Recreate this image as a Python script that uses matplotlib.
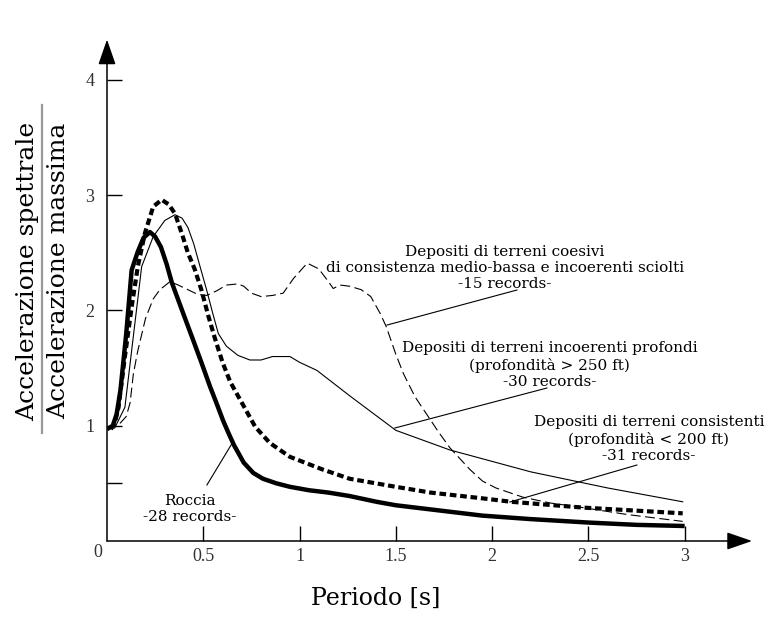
import numpy as np
import matplotlib
matplotlib.use('Agg')
import matplotlib.pyplot as plt
from matplotlib.lines import Line2D

# Spectral shapes (period [s], Sa / amax)
roccia_x = [0.0, 0.03, 0.05, 0.07, 0.10, 0.128, 0.16, 0.19, 0.223, 0.25, 0.28, 0.31, 0.337,
            0.39, 0.448, 0.49, 0.535, 0.57, 0.604, 0.63, 0.66, 0.71, 0.76, 0.81, 0.88, 0.95,
            1.05, 1.15, 1.26, 1.4, 1.5, 1.7, 1.95, 2.2, 2.5, 2.75, 3.0]
roccia_y = [0.97, 1.0, 1.1, 1.31, 1.80, 2.35, 2.51, 2.63, 2.68, 2.64, 2.55, 2.40, 2.24,
            2.0, 1.74, 1.55, 1.34, 1.19, 1.04, 0.94, 0.83, 0.68, 0.59, 0.54, 0.50, 0.47,
            0.44, 0.42, 0.39, 0.34, 0.31, 0.27, 0.22, 0.19, 0.16, 0.14, 0.13]

consist_x = [0.02, 0.04, 0.06, 0.093, 0.128, 0.16, 0.197, 0.24, 0.284, 0.32, 0.353, 0.39,
             0.42, 0.455, 0.49, 0.525, 0.56, 0.60, 0.64, 0.71, 0.77, 0.846, 0.95, 1.12,
             1.26, 1.5, 1.68, 1.95, 2.1, 2.47, 2.99]
consist_y = [0.97, 1.02, 1.16, 1.60, 2.03, 2.38, 2.67, 2.90, 2.96, 2.92, 2.84, 2.66,
             2.50, 2.36, 2.18, 1.96, 1.76, 1.55, 1.38, 1.17, 0.99, 0.85, 0.73, 0.62,
             0.54, 0.47, 0.42, 0.37, 0.34, 0.29, 0.24]

profondi_x = [0.04, 0.093, 0.145, 0.18, 0.24, 0.30, 0.353, 0.39, 0.42, 0.45, 0.48, 0.517,
              0.55, 0.578, 0.62, 0.68, 0.742, 0.80, 0.86, 0.95, 1.0, 1.09, 1.26, 1.5,
              1.78, 2.2, 2.6, 2.99]
profondi_y = [0.98, 1.16, 1.89, 2.38, 2.64, 2.78, 2.83, 2.80, 2.72, 2.58, 2.40, 2.18,
              1.97, 1.80, 1.69, 1.61, 1.57, 1.57, 1.60, 1.60, 1.55, 1.48, 1.26, 0.96,
              0.79, 0.60, 0.46, 0.34]

coesivi_x = [0.067, 0.10, 0.12, 0.137, 0.16, 0.20, 0.24, 0.275, 0.327, 0.37, 0.42, 0.47,
             0.518, 0.57, 0.62, 0.68, 0.71, 0.75, 0.80, 0.86, 0.915, 0.97, 1.04, 1.10,
             1.15, 1.175, 1.21, 1.26, 1.32, 1.37, 1.42, 1.45, 1.50, 1.54, 1.60, 1.66,
             1.72, 1.78, 1.885, 1.95, 2.02, 2.16, 2.3, 2.47, 2.7, 2.99]
coesivi_y = [1.02, 1.08, 1.2, 1.45, 1.65, 1.93, 2.10, 2.18, 2.25, 2.22, 2.18, 2.14,
             2.13, 2.17, 2.22, 2.23, 2.21, 2.15, 2.12, 2.13, 2.15, 2.28, 2.41, 2.36,
             2.25, 2.19, 2.22, 2.21, 2.18, 2.12, 1.97, 1.86, 1.62, 1.45, 1.25, 1.10,
             0.95, 0.81, 0.62, 0.52, 0.46, 0.38, 0.33, 0.29, 0.23, 0.17]

x_ticks = [0.5, 1, 1.5, 2, 2.5, 3]
x_labels = ['0.5', '1', '1.5', '2', '2.5', '3']
y_ticks = [0.5, 1, 2, 3, 4]
y_labels = ['', '1', '2', '3', '4']

fig = plt.figure(figsize=(7.81, 6.18), dpi=100)
ax = fig.add_axes([0.137, 0.1246, 0.8259, 0.8115])
ax.set_xlim(0, 3.35)
ax.set_ylim(0, 4.35)

# the four curves
ax.plot(coesivi_x, coesivi_y, color='k', lw=0.8, dashes=(9, 4))
ax.plot(profondi_x, profondi_y, color='k', lw=0.8)
ax.plot(consist_x, consist_y, color='k', lw=3.0, dashes=(1.6, 0.9))
ax.plot(roccia_x, roccia_y, color='k', lw=3.2, solid_capstyle='butt')

# axes as arrows
for s in ax.spines.values():
    s.set_visible(False)
arrow = dict(arrowstyle='-|>,head_length=1.3,head_width=0.45', color='k', lw=1.1,
             shrinkA=0, shrinkB=0, mutation_scale=12)
ax.annotate('', xy=(1, 0), xytext=(0, 0), xycoords='axes fraction', arrowprops=arrow)
ax.annotate('', xy=(0, 1), xytext=(0, 0), xycoords='axes fraction', arrowprops=arrow)

ax.set_xticks(x_ticks)
ax.set_xticklabels(x_labels)
ax.set_yticks(y_ticks)
ax.set_yticklabels(y_labels)
ax.tick_params(direction='in', length=11, width=1.0, colors='k', labelcolor='#333',
               labelsize=13)
ax.tick_params(axis='x', pad=5)
ax.tick_params(axis='y', pad=9)
for lab in ax.get_xticklabels() + ax.get_yticklabels():
    lab.set_family('Liberation Serif')
ax.yaxis.get_major_ticks()[2].tick1line.set_color('#999')
ax.text(-0.05, -0.03, '0', ha='center', va='top', fontsize=13, color='#333',
        family='Liberation Serif', clip_on=False)

# labels
fig.text(0.481, 0.032, 'Periodo [s]', ha='center', va='center', fontsize=17,
         family='DejaVu Serif')
fig.text(0.036, 0.5615, 'Accelerazione spettrale', rotation=90, ha='center',
         va='center', fontsize=18, family='DejaVu Serif')
fig.text(0.0755, 0.5615, 'Accelerazione massima', rotation=90, ha='center',
         va='center', fontsize=18, family='DejaVu Serif')
fig.add_artist(Line2D([0.0538, 0.0538], [1 - 433 / 618, 1 - 105 / 618],
                      transform=fig.transFigure, color='#999', lw=1.6))

# annotations with leader lines
notes = [
    ('Depositi di terreni coesivi\ndi consistenza medio-bassa e incoerenti sciolti\n-15 records-',
     (2.066, 2.37), (1.454, 1.873), (2.129, 2.177)),
    ('Depositi di terreni incoerenti profondi\n(profondità > 250 ft)\n-30 records-',
     (2.30, 1.526), (1.495, 0.98), (2.285, 1.327)),
    ('Depositi di terreni consistenti\n(profondità < 200 ft)\n-31 records-',
     (2.814, 0.885), (2.092, 0.338), (2.752, 0.659)),
    ('Roccia\n-28 records-', (0.431, 0.278), (0.654, 0.859), (0.519, 0.486)),
]
for txt, pos, p0, p1 in notes:
    ax.text(pos[0], pos[1], txt, ha='center', va='center', multialignment='center',
            fontsize=11, family='DejaVu Serif', linespacing=1.2)
    ax.plot([p0[0], p1[0]], [p0[1], p1[1]], color='k', lw=0.8)

fig.savefig('out.png', dpi=100)
